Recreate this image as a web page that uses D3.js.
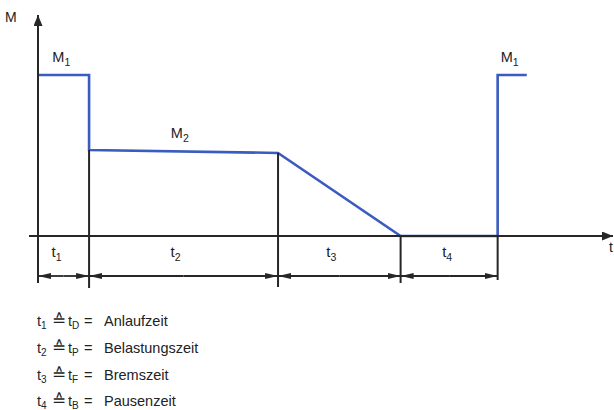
<!DOCTYPE html>
<html><head><meta charset="utf-8">
<script src="https://cdn.jsdelivr.net/npm/d3@7"></script>
<style>
html,body{margin:0;padding:0;background:#fff;}
text{font-family:"Liberation Sans",Arial,sans-serif;fill:#222;}
</style></head>
<body><svg id="c" width="614" height="410"></svg>
<script>
// phase durations (t1..t4) in arbitrary time units
const phaseNames = ["1","2","3","4"];
const phaseDur = [1.0, 3.7, 2.4, 1.9];
// torque profile: time / torque points
const torqueT = [0, 1.0, 1.0, 4.7, 7.1, 9.0, 9.0, 9.57];
const torqueM = [1.0, 1.0, 0.534, 0.516, 0, 0, 1.0, 1.0];
// torque labels
const mLabels = [{n:"1", t:0.28, m:1.08},{n:"2", t:2.6, m:0.61},{n:"1", t:9.06, m:1.08}];
// legend
const legendSub = ["D","P","F","B"];
const legendText = ["Anlaufzeit","Belastungszeit","Bremszeit","Pausenzeit"];

const svg = d3.select("#c");
const x = d3.scaleLinear().domain([0, 11.2]).range([38, 610]);
const y = d3.scaleLinear().domain([0, 1]).range([236, 75]);
const blue = "#3a5bbf", ink = "#262626";

const defs = svg.append("defs");
function marker(id, w, h){
  defs.append("marker").attr("id", id).attr("viewBox", `0 0 ${w} ${h}`)
    .attr("refX", w).attr("refY", h/2).attr("markerWidth", w).attr("markerHeight", h)
    .attr("markerUnits","userSpaceOnUse").attr("orient","auto")
    .append("path").attr("d", `M0,0L${w},${h/2}L0,${h}Z`).attr("fill", ink);
}
marker("axArrow", 11, 9);
marker("dimArrow", 13, 6);

// torque curve
const pts = torqueT.map((t,i)=>[x(t), y(torqueM[i])]);
svg.append("path").attr("d", d3.line()(pts)).attr("fill","none")
  .attr("stroke", blue).attr("stroke-width", 2.6).attr("stroke-linejoin","miter");

// boundaries
const bounds = [0]; phaseDur.forEach(d=>bounds.push(bounds[bounds.length-1]+d));
// vertical extension lines
const extTop = [torqueM[0], torqueM[2], torqueM[3], 0, 0];
const extBottom = [283, 288, 287, 283, 280];
bounds.forEach((b,i)=>{
  if(i===0) return;
  svg.append("line").attr("x1", x(b)).attr("x2", x(b))
    .attr("y1", y(extTop[i])).attr("y2", extBottom[i])
    .attr("stroke", ink).attr("stroke-width", 2);
});

// y axis
svg.append("line").attr("x1", x(0)).attr("x2", x(0)).attr("y1", extBottom[0]).attr("y2", 15)
  .attr("stroke", ink).attr("stroke-width", 2).attr("marker-end","url(#axArrow)");
// x axis
svg.append("line").attr("x1", 29).attr("x2", 613).attr("y1", y(0)).attr("y2", y(0))
  .attr("stroke", ink).attr("stroke-width", 2).attr("marker-end","url(#axArrow)");

// dimension lines
const dimY = 276;
const labOff = [-12, -13, -13, -7];
for(let i=0;i<phaseDur.length;i++){
  const a = x(bounds[i]), b = x(bounds[i+1]), m = (a+b)/2;
  svg.append("line").attr("x1", m).attr("x2", a).attr("y1", dimY).attr("y2", dimY)
    .attr("stroke", ink).attr("stroke-width", 1.8).attr("marker-end","url(#dimArrow)");
  svg.append("line").attr("x1", m).attr("x2", b).attr("y1", dimY).attr("y2", dimY)
    .attr("stroke", ink).attr("stroke-width", 1.8).attr("marker-end","url(#dimArrow)");
  const t = svg.append("text").attr("x", m + labOff[i]).attr("y", 257).attr("font-size", 15);
  t.append("tspan").text("t");
  t.append("tspan").attr("dy", 4).attr("font-size", 10.5).text(phaseNames[i]);
}

// axis labels
svg.append("text").attr("x", 5).attr("y", 22).attr("font-size", 14).text("M");
svg.append("text").attr("x", 609).attr("y", 252).attr("font-size", 14).text("t");

// torque labels
mLabels.forEach(l=>{
  const t = svg.append("text").attr("x", x(l.t)).attr("y", y(l.m)).attr("font-size", 14.5);
  t.append("tspan").text("M");
  t.append("tspan").attr("dy", 4).attr("font-size", 10.5).text(l.n);
});

// legend
const colX = [37, 52, 68, 84, 104];
legendText.forEach((txt,i)=>{
  const by = 326 + i*26.8;
  const g = svg.append("g").attr("font-size", 14.5);
  const t1 = g.append("text").attr("x", colX[0]).attr("y", by);
  t1.append("tspan").text("t");
  t1.append("tspan").attr("dy", 3).attr("font-size", 10).text(phaseNames[i]);
  g.append("text").attr("x", colX[1]).attr("y", by).attr("font-size", 17).text("\u2259");
  const t2 = g.append("text").attr("x", colX[2]).attr("y", by);
  t2.append("tspan").text("t");
  t2.append("tspan").attr("dy", 3).attr("font-size", 10).text(legendSub[i]);
  g.append("text").attr("x", colX[3]).attr("y", by).text("=");
  g.append("text").attr("x", colX[4]).attr("y", by).text(txt);
});
</script></body></html>
